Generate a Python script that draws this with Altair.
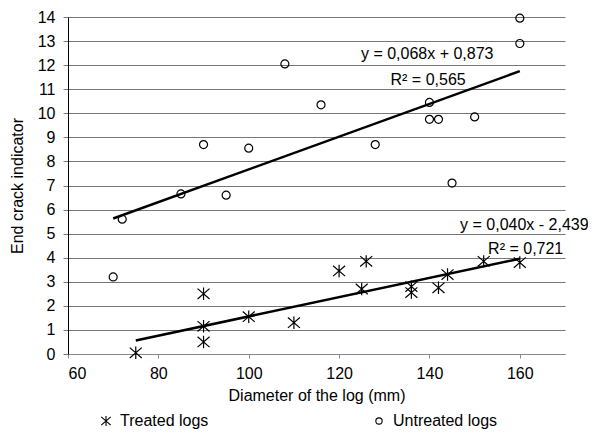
import altair as alt
import pandas as pd

# Untreated logs (circles)
untreated_x = [70, 72, 85, 90, 95, 100, 108, 116, 128, 140, 140, 142, 145, 150, 160, 160]
untreated_y = [3.2, 5.6, 6.65, 8.7, 6.6, 8.55, 12.05, 10.35, 8.7, 10.45, 9.75, 9.75, 7.1, 9.85, 12.9, 13.95]

# Treated logs (asterisks)
treated_x = [75, 90, 90, 90, 100, 110, 120, 125, 126, 136, 136, 142, 144, 152, 160]
treated_y = [0.05, 2.5, 1.15, 0.5, 1.55, 1.3, 3.45, 2.7, 3.85, 2.55, 2.8, 2.75, 3.3, 3.85, 3.8]

# Trend line end points (Excel linear trendlines)
untreated_trend_x = [70, 160]
untreated_trend_y = [5.63, 11.75]
treated_trend_x = [75, 160]
treated_trend_y = [0.56, 3.96]

# Annotations
ann_text = ["y = 0,068x + 0,873", "R² = 0,565", "y = 0,040x - 2,439", "R² = 0,721"]
ann_x = [139.5, 139.7, 161.0, 161.3]
ann_y = [12.46, 11.38, 5.36, 4.35]

series = ["Treated logs", "Untreated logs"]
x_ticks = [60, 80, 100, 120, 140, 160]
y_ticks = list(range(0, 15))

FONT = "Liberation Sans"
ASTERISK = "M-1.5,-1.3L1.5,1.3M-1.5,1.3L1.5,-1.3M0,-1.55L0,1.55"

pts = pd.DataFrame({
    "x": treated_x + untreated_x,
    "y": treated_y + untreated_y,
    "s": [series[0]] * len(treated_x) + [series[1]] * len(untreated_x),
})
trend = pd.DataFrame({
    "x": treated_trend_x + untreated_trend_x,
    "y": treated_trend_y + untreated_trend_y,
    "s": [series[0]] * 2 + [series[1]] * 2,
})
ann = pd.DataFrame({"x": ann_x, "y": ann_y, "t": ann_text})

xs = alt.Scale(domain=[60, 170], nice=False, zero=False)
ys = alt.Scale(domain=[0, 14], nice=False)

x_axis = alt.Axis(
    title="Diameter of the log (mm)", values=x_ticks, grid=False,
    domainColor="#888", tickColor="#888", tickSize=4, labelPadding=7,
    titlePadding=6)
y_axis = alt.Axis(
    title="End crack indicator", values=y_ticks, grid=True,
    gridColor="#777", gridWidth=1, gridOpacity=1, domainColor="black", tickColor="#777",
    tickSize=5, labelPadding=8, titlePadding=12)

X = alt.X("x:Q", scale=xs, axis=x_axis)
Y = alt.Y("y:Q", scale=ys, axis=y_axis)

lines = alt.Chart(trend).mark_line(color="black", strokeWidth=2.5).encode(
    x=X, y=Y, detail="s:N")

points = alt.Chart(pts).mark_point(filled=False, size=64, strokeWidth=1.2, color="black", opacity=1).encode(
    x=X, y=Y,
    shape=alt.Shape("s:N", scale=alt.Scale(domain=series, range=[ASTERISK, "circle"]),
                    legend=alt.Legend(title=None, orient="none", legendX=30, legendY=396,
                                      direction="horizontal", columnPadding=162,
                                      symbolSize=40, symbolStrokeColor="black",
                                      symbolStrokeWidth=1.1, symbolFillColor="transparent",
                                      labelFont=FONT, labelFontSize=16, labelColor="black",
                                      labelOffset=6, padding=0)),
)

texts = alt.Chart(ann).mark_text(font=FONT, fontSize=16, color="black").encode(
    x=X, y=Y, text="t:N")

chart = alt.layer(lines, points, texts).properties(
    width=497, height=337,
    autosize=alt.AutoSizeParams(type="none"),
    padding={"left": 60, "top": 9, "right": 23, "bottom": 77},
    background="white",
).configure_view(stroke=None).configure_axis(
    labelFont=FONT, labelFontSize=16, labelColor="black",
    titleFont=FONT, titleFontSize=16, titleColor="black", titleFontWeight="normal",
).configure_axisY(grid=True, gridColor="#777", gridOpacity=1)

chart.save("out.html", embed_options={"renderer": "svg", "actions": False})
